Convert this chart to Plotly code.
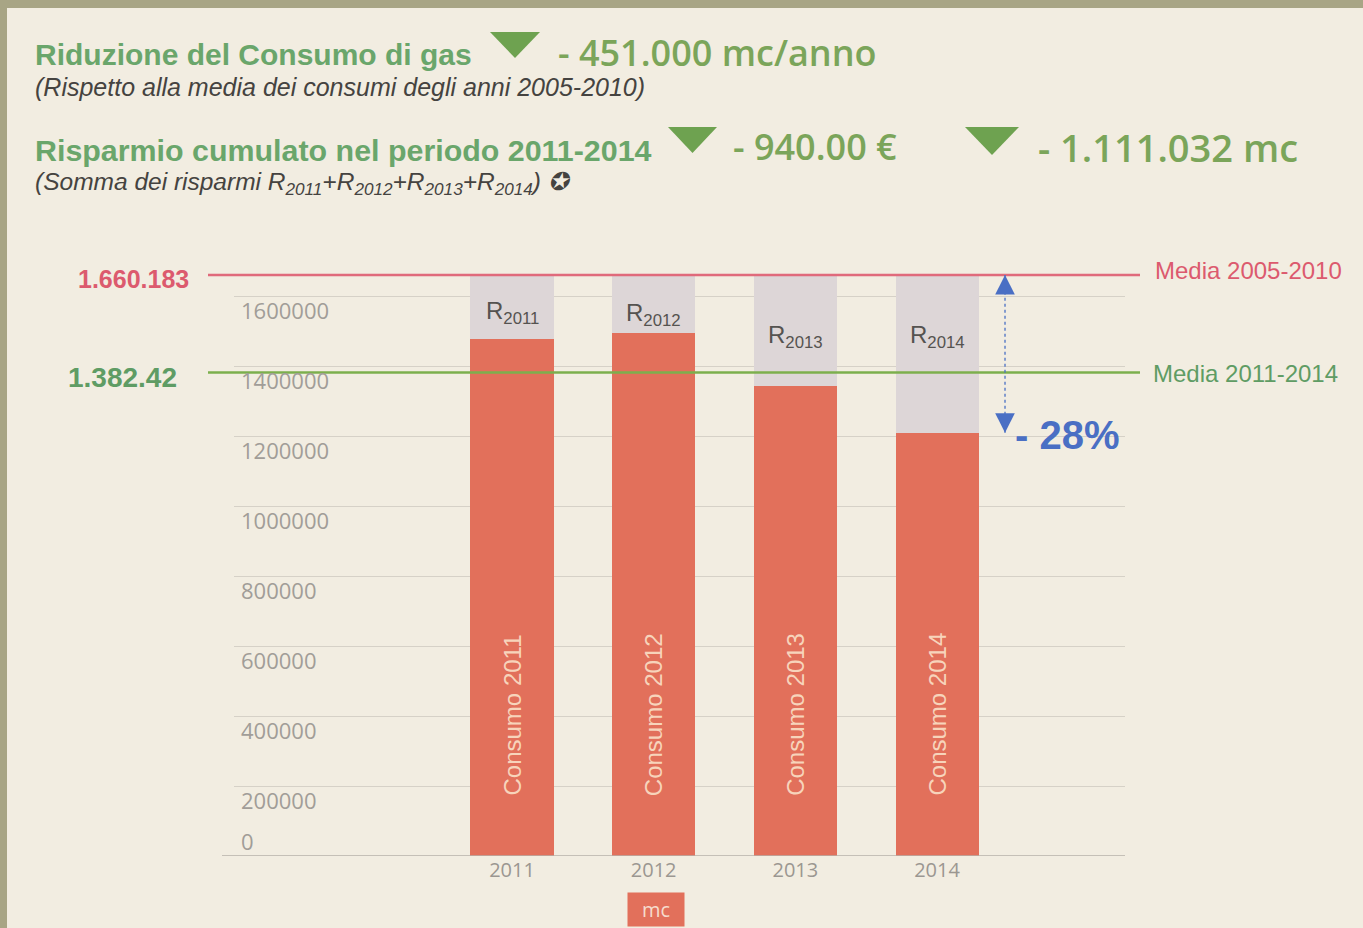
import plotly.graph_objects as go

# ---------------- data ----------------
YEARS = ["2011", "2012", "2013", "2014"]
CONSUMO = [1478000, 1495000, 1344000, 1209000]          # mc per year
MEDIA_2005_2010 = 1660183
MEDIA_2011_2014 = sum(CONSUMO) / len(CONSUMO)
RISPARMIO = [MEDIA_2005_2010 - c for c in CONSUMO]        # R_year
Y_TICKS = [0, 200000, 400000, 600000, 800000, 1000000, 1200000, 1400000, 1600000]
Y_TICK_LABELS = [str(v) for v in Y_TICKS]
BAR_LABELS = ["Consumo " + y for y in YEARS]
R_LABELS = ["R<sub>" + y + "</sub>" for y in YEARS]
LABEL_MEDIA_0510 = "1.660.183"
LABEL_MEDIA_1114 = "1.382.42"
RIDUZIONE = "- 451.000 mc/anno"
RISPARMIO_EURO = "- 940.00 €"
RISPARMIO_MC = "- 1.111.032 mc"
PERCENT = "- 28%"

# ---------------- geometry / style ----------------
W, H = 1363, 928
PL, PR, PT, PB = 234, 1125, 261, 856
YMAX = 1700000
X_RANGE = [(PL - 512) / 141.67, (PR - 512) / 141.67]


def px(x):
    return (x - PL) / (PR - PL)


def py(y):
    return (PB - y) / (PB - PT)


RED_BAR = "#e2705b"
GRAY_BAR = "#ddd6d7"
RED_TXT = "#dc5a6e"
RED_LINE = "#e06a7b"
GREEN_TXT = "#5f9c64"
GREEN_LINE = "#7caf4d"
GREEN_HEAD = "#6aa66b"
GREEN_NUM = "#7ba55a"
GREEN_TRI = "#6ea250"
BLUE = "#4a6fc4"
BG = "#f2ede1"
BORDER = "#a8a585"

fig = go.Figure()
fig.add_trace(go.Bar(x=[0, 1, 2, 3], y=CONSUMO, marker=dict(color=RED_BAR, line=dict(width=0)),
                     width=0.586, name="mc", showlegend=False, hoverinfo="skip"))
fig.add_trace(go.Bar(x=[0, 1, 2, 3], y=RISPARMIO, marker=dict(color=GRAY_BAR, line=dict(width=0)),
                     width=0.586, name="R", showlegend=False, hoverinfo="skip"))

shapes = []
# page background with olive border on top/left
shapes.append(dict(type="rect", xref="paper", yref="paper", x0=px(7), x1=px(W + 10),
                   y0=py(8), y1=py(H + 10), fillcolor=BG, line=dict(width=0), layer="below"))
# baseline extension to the left
shapes.append(dict(type="line", xref="paper", yref="y", x0=px(222), x1=px(PR),
                   y0=0, y1=0, line=dict(color="#b6b1a9", width=1.5)))
# reference lines
shapes.append(dict(type="line", xref="paper", yref="y", x0=px(208), x1=px(1140),
                   y0=MEDIA_2005_2010, y1=MEDIA_2005_2010, line=dict(color=RED_LINE, width=2.5)))
shapes.append(dict(type="line", xref="paper", yref="y", x0=px(208), x1=px(1140),
                   y0=MEDIA_2011_2014, y1=MEDIA_2011_2014, line=dict(color=GREEN_LINE, width=2.5)))
# blue dotted arrow shaft
ARROW_X = 3.48
shapes.append(dict(type="line", xref="x", yref="y", x0=ARROW_X, x1=ARROW_X,
                   y0=CONSUMO[-1], y1=MEDIA_2005_2010, line=dict(color=BLUE, width=1.3, dash="dot")))


def tri(x0, x1, ytop, ybot):
    xm = (x0 + x1) / 2
    return dict(type="path", xref="paper", yref="paper",
                path=f"M {px(x0)},{py(ytop)} L {px(x1)},{py(ytop)} L {px(xm)},{py(ybot)} Z",
                fillcolor=GREEN_TRI, line=dict(width=0))


shapes.append(tri(490, 540, 32, 58))
shapes.append(tri(668, 717, 127, 153))
shapes.append(tri(965, 1019, 127, 155))

ann = []
# y tick labels (inside, under grid lines)
for v, lab in zip(Y_TICKS, Y_TICK_LABELS):
    ann.append(dict(xref="paper", yref="y", x=px(239), y=v, xanchor="left", yanchor="middle",
                    yshift=(-14 if v > 0 else 15), text=lab, showarrow=False,
                    font=dict(family="Open Sans", size=22, color="#a19d98")))
# bar labels
R_SHIFT = [-38, -40, -62, -62]
for i in range(4):
    ann.append(dict(xref="x", yref="y", x=i, y=0, yanchor="bottom", xanchor="center", yshift=58,
                    text=BAR_LABELS[i], textangle=-90, showarrow=False,
                    font=dict(family="Liberation Sans, Arial", size=24, color="#f7d4bb")))
    ann.append(dict(xref="x", yref="y", x=i, y=MEDIA_2005_2010, yanchor="middle", xanchor="center",
                    yshift=R_SHIFT[i], text=R_LABELS[i], showarrow=False,
                    font=dict(family="Liberation Sans, Arial", size=24, color="#555350")))
# reference line labels
ann.append(dict(xref="paper", yref="y", x=px(191), y=MEDIA_2005_2010, xanchor="right", yanchor="middle",
                yshift=-4, text=LABEL_MEDIA_0510, showarrow=False,
                font=dict(family="Liberation Sans, Arial", size=25, weight="bold", color=RED_TXT)))
ann.append(dict(xref="paper", yref="y", x=px(179), y=MEDIA_2011_2014, xanchor="right", yanchor="middle",
                yshift=-5, text=LABEL_MEDIA_1114, showarrow=False,
                font=dict(family="Liberation Sans, Arial", size=28, weight="bold", color=GREEN_TXT)))
ann.append(dict(xref="paper", yref="y", x=px(1153), y=MEDIA_2005_2010, xanchor="left", yanchor="middle",
                yshift=4, text="Media 2005-2010", showarrow=False,
                font=dict(family="Liberation Sans, Arial", size=24, color=RED_TXT)))
ann.append(dict(xref="paper", yref="y", x=px(1151), y=MEDIA_2011_2014, xanchor="left", yanchor="middle",
                yshift=-1, text="Media 2011-2014", showarrow=False,
                font=dict(family="Liberation Sans, Arial", size=24, color=GREEN_TXT)))
# arrow heads
ann.append(dict(xref="x", yref="y", x=ARROW_X, y=MEDIA_2005_2010, ax=0, ay=16, text="",
                showarrow=True, arrowhead=2, arrowsize=2.8, arrowwidth=1.4, arrowcolor=BLUE,
                font=dict(size=10)))
ann.append(dict(xref="x", yref="y", x=ARROW_X, y=CONSUMO[-1], ax=0, ay=-16, text="",
                showarrow=True, arrowhead=2, arrowsize=2.8, arrowwidth=1.4, arrowcolor=BLUE,
                font=dict(size=10)))
ann.append(dict(xref="x", yref="y", x=ARROW_X, y=CONSUMO[-1], xanchor="left", yanchor="middle",
                xshift=8, yshift=-2, text=PERCENT, showarrow=False,
                font=dict(family="Liberation Sans, Arial", size=40, weight="bold", color=BLUE)))
# legend box "mc"
ann.append(dict(xref="paper", yref="paper", x=px(656), y=py(910), xanchor="center", yanchor="middle",
                text="mc", showarrow=False, bgcolor=RED_BAR, borderpad=3, width=50,
                font=dict(family="Open Sans", size=20, color="#f6dccd")))

# header texts
HEAD_FONT = "Liberation Sans, Arial"
NUM_FONT = "Open Sans"
ann.append(dict(xref="paper", yref="paper", x=px(33), y=py(55), xanchor="left", yanchor="middle",
                text="Riduzione del Consumo di gas", showarrow=False,
                font=dict(family=HEAD_FONT, size=30, weight="bold", color=GREEN_HEAD)))
ann.append(dict(xref="paper", yref="paper", x=px(556), y=py(53), xanchor="left", yanchor="middle",
                text=RIDUZIONE, showarrow=False,
                font=dict(family=NUM_FONT, size=36, weight=600, color=GREEN_NUM)))
ann.append(dict(xref="paper", yref="paper", x=px(33), y=py(87), xanchor="left", yanchor="middle",
                text="(Rispetto alla media dei consumi degli anni 2005-2010)", showarrow=False,
                font=dict(family=HEAD_FONT, size=25, style="italic", color="#454340")))
ann.append(dict(xref="paper", yref="paper", x=px(33), y=py(150), xanchor="left", yanchor="middle",
                text="Risparmio cumulato nel periodo 2011-2014", showarrow=False,
                font=dict(family=HEAD_FONT, size=30.4, weight="bold", color=GREEN_HEAD)))
ann.append(dict(xref="paper", yref="paper", x=px(731), y=py(146), xanchor="left", yanchor="middle",
                text=RISPARMIO_EURO, showarrow=False,
                font=dict(family=NUM_FONT, size=36, weight=600, color=GREEN_NUM)))
ann.append(dict(xref="paper", yref="paper", x=px(1036), y=py(147), xanchor="left", yanchor="middle",
                text=RISPARMIO_MC, showarrow=False,
                font=dict(family=NUM_FONT, size=38, weight=600, color=GREEN_NUM)))
ann.append(dict(xref="paper", yref="paper", x=px(33), y=py(183), xanchor="left", yanchor="middle",
                text="(Somma dei risparmi " + "+".join(R_LABELS) + ") ✪", showarrow=False,
                font=dict(family=HEAD_FONT, size=24.5, style="italic", color="#454340")))

fig.update_layout(
    width=W, height=H,
    margin=dict(l=PL, r=W - PR, t=PT, b=H - PB, pad=0),
    paper_bgcolor=BORDER, plot_bgcolor="rgba(0,0,0,0)",
    barmode="stack", bargap=0,
    showlegend=False,
    shapes=shapes, annotations=ann,
    xaxis=dict(range=X_RANGE, tickvals=[0, 1, 2, 3], ticktext=YEARS, showgrid=False,
               zeroline=False, showline=False, ticks="",
               tickfont=dict(family="Open Sans", size=20, color="#9b9791"), fixedrange=True),
    yaxis=dict(range=[0, YMAX], tickvals=Y_TICKS, showticklabels=False, showgrid=True,
               gridcolor="#d6d1c7", gridwidth=1, zeroline=False, showline=False, ticks="",
               fixedrange=True),
)

fig.write_html("out.html", config={"displayModeBar": False},
               post_script="document.body.style.margin='0';document.body.style.overflow='hidden';")
